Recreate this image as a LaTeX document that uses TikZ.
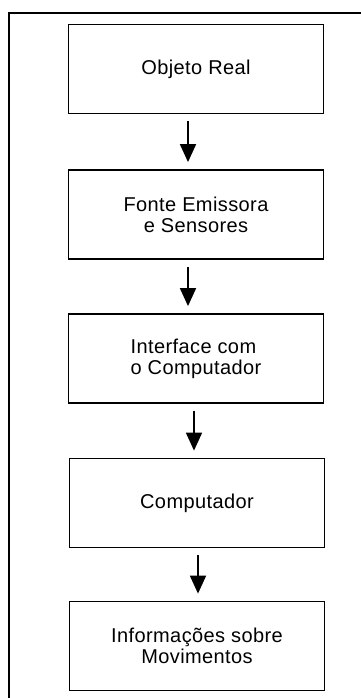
\documentclass[tikz,border=0pt]{standalone}
\usepackage{fontspec}
\setmainfont{Liberation Sans}[LetterSpace=2]
\usetikzlibrary{arrows.meta}
\begin{document}
\begin{tikzpicture}[x=1pt,y=-1pt,
  caixa/.style={draw,line width=1.8pt,minimum width=255pt,minimum height=89pt,
    inner sep=0pt,font=\fontsize{20}{21}\selectfont,align=center},
  seta/.style={line width=1.8pt,-{Triangle[width=16pt,length=18pt]},
    shorten <=7pt,shorten >=7pt}]
  \useasboundingbox (0,0) rectangle (361,698);
  \draw[line width=2pt] (361,13) -- (9,13) -- (9,698);
  \node[caixa] (objeto) at (196,69) {Objeto Real};
  \node[caixa] (fonte) at (196,214.5) {Fonte Emissora\\e Sensores};
  \node[caixa,align=left] (interface) at (196,358.5) {Interface com\\o Computador};
  \node[caixa] (computador) at (197,503) {Computador};
  \node[caixa] (info) at (197,646) {Informações sobre\\Movimentos};
  \draw[seta] ([xshift=-8pt]objeto.south) -- ([xshift=-8pt]fonte.north);
  \draw[seta] ([xshift=-8pt]fonte.south) -- ([xshift=-8pt]interface.north);
  \draw[seta] ([xshift=-2pt]interface.south) -- ([xshift=-3pt]computador.north);
  \draw[seta] ([xshift=1pt]computador.south) -- ([xshift=1pt]info.north);
\end{tikzpicture}
\end{document}
